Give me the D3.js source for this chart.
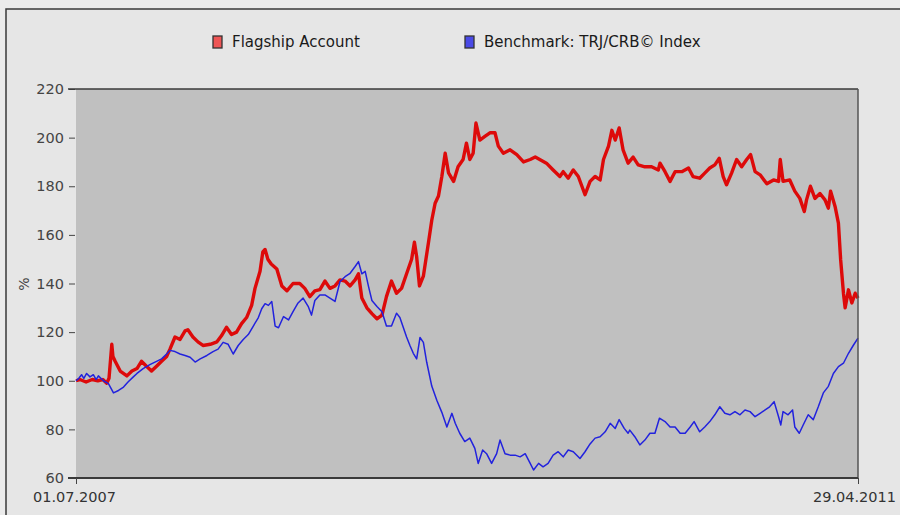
<!DOCTYPE html>
<html>
<head>
<meta charset="utf-8">
<script src="https://cdn.jsdelivr.net/npm/d3@7"></script>
<style>
  html, body { margin: 0; padding: 0; background: #ebebeb; }
  svg { display: block; }
</style>
</head>
<body>
<div id="chart"></div>
<script>
// series names + colours
const seriesNames = ["Flagship Account", "Benchmark: TRJ/CRB\u00a9 Index"];

// days since 01.07.2007 and index values
const flagshipDays = [0,7,18,29,39,48,55,59,64,66,70,79,91,100,109,117,126,135,144,153,162,168,177,186,195,200,209,218,227,240,252,260,269,278,287,296,305,314,320,329,334,338,343,349,359,368,377,388,400,409,418,427,436,445,454,463,472,481,490,499,505,511,520,529,538,547,555,564,573,582,591,600,605,609,614,621,630,636,642,648,654,660,666,675,683,692,698,704,710,715,722,731,740,749,755,764,776,788,800,812,821,829,841,853,865,871,880,889,898,910,919,928,937,943,952,958,964,971,978,987,996,1005,1017,1029,1041,1044,1053,1062,1071,1083,1095,1103,1115,1124,1133,1142,1150,1157,1163,1172,1181,1190,1199,1206,1214,1223,1235,1247,1256,1259,1264,1276,1285,1294,1302,1306,1313,1321,1330,1339,1345,1349,1357,1363,1367,1372,1375,1381,1387,1393,1398];
const flagshipValues = [100,100.5,99.5,100.5,100,100.5,99,101,115,110,108,104,102,104,105,108,106,104,106,108,110,113,118,117,120.5,121,118,116,114.5,115,116,118.5,122,119,120,123.5,126,131,138,145,153,154,150,148,146,139,137,140,140,138,134.6,137,137.5,141,138,139,141.5,141,139,141.5,144,134,130,127.6,125.5,127,134.6,141,136,138,144,150,157,151,139,143,156.7,166,173,176,184,193.6,185.5,182,188,191,197.7,191,193.6,206,199,200.5,202,202,196.5,193.6,195,193,190,191,192,191,189.5,186.7,184,186,183.3,186.7,184,176.5,182,184,182.6,191,196.5,203,199,204,195,189.5,192,188.8,188,188,186.7,189.5,186,182,186,186,187.5,184,183.3,185.4,187.5,188.8,191.5,184,180.6,185.4,191,188,191,193,186,184.7,181,182.6,182,191,182,182.6,178,175,169.6,174.4,180,175,177,174.4,171,178,171.7,164.8,149.7,136,130,137.4,132,136,134];

const benchmarkDays = [0,5,10,14,19,25,31,36,40,49,58,67,76,85,93,102,109,120,132,144,153,162,168,177,186,195,204,213,222,234,245,254,263,272,281,290,299,308,317,326,332,338,344,350,356,362,371,380,388,397,406,415,421,427,436,445,454,463,472,481,490,499,505,511,517,523,529,538,547,555,564,573,579,591,597,603,609,615,621,627,636,645,654,663,672,678,686,695,704,713,719,727,734,743,752,758,767,776,785,794,803,812,818,827,835,844,853,862,871,880,889,901,910,919,928,937,946,955,964,971,980,987,990,999,1008,1017,1026,1035,1043,1053,1062,1071,1080,1089,1098,1105,1115,1124,1133,1142,1151,1160,1169,1178,1187,1196,1205,1214,1223,1232,1240,1248,1256,1260,1264,1273,1281,1285,1293,1300,1309,1318,1327,1336,1345,1354,1363,1372,1381,1390,1398];
const benchmarkValues = [100,101,102.5,101,103,101.6,102.5,100.5,102,100,98.8,95,96,97.4,99.5,101.5,103,105,106.6,108,109,111,112.5,112,111,110.4,109.7,107.7,109,110.4,112,113,115.8,115,111,114.5,117,119,122.5,126,129.6,131.7,131,132.6,122.5,121.8,126.4,125,128.4,132,134,130.6,127,133,135.3,135.3,134,132.6,140.8,142.8,144.2,147,149,144,145,138.7,133,130.5,128.4,122.5,122.5,127.8,126,118,114.5,111.3,109,117.8,115.8,107.6,97.8,92,87,81,86.6,82.5,78.4,75,76.4,72.2,66,71.5,70,66,70,75.6,70,69.4,69.4,68.7,70,66,63.3,66,64.6,66,69.4,70.8,68.7,71.5,70.8,68,70.8,74,76.4,77,79,82.5,80.4,84,80.4,78.4,79.7,77,73.6,75.6,78.4,78.4,84.6,83.2,81,81,78.4,78.4,81,83.2,79,81,83.2,86,89.3,86.6,86,87.3,86,88,87.3,85.2,86.6,88,89.3,91.4,85.2,81.8,87.3,86,88,81,78.4,81.8,86,84,89.3,95,97.7,103,105.8,107.2,111.3,114.7,117.5];

const yTicks = [60, 80, 100, 120, 140, 160, 180, 200, 220];
const dateLabels = ["01.07.2007", "29.04.2011"];

const width = 900, height = 515;
const marginLeft = 76, plotRight = 858, marginTop = 89, plotBottom = 478;

const parseDate = d3.timeParse("%d.%m.%Y");
const start = parseDate(dateLabels[0]);
const end = parseDate(dateLabels[1]);

const x = d3.scaleTime().domain([start, end]).range([marginLeft, plotRight]);
const y = d3.scaleLinear().domain([60, 220]).range([plotBottom, marginTop]);

const flagship = flagshipDays.map((d, i) => ({ date: d3.timeDay.offset(start, d), value: flagshipValues[i] }));
const benchmark = benchmarkDays.map((d, i) => ({ date: d3.timeDay.offset(start, d), value: benchmarkValues[i] }));

const svg = d3.select("#chart")
  .append("svg")
  .attr("width", width)
  .attr("height", height)
  .attr("style", "font-family: 'DejaVu Sans', Verdana, sans-serif;");

// outer panel
svg.append("rect")
  .attr("x", 6).attr("y", 9)
  .attr("width", width + 10).attr("height", height + 10)
  .attr("fill", "#e6e6e6")
  .attr("stroke", "#3a3a3a")
  .attr("stroke-width", 1.5);

// legend
const legendX = [213, 465];
const legendColors = ["#ee5555", "#4a4ae6"];
const legend = svg.append("g");
seriesNames.forEach((name, i) => {
  legend.append("rect")
    .attr("x", legendX[i]).attr("y", 36)
    .attr("width", 9).attr("height", 12)
    .attr("fill", legendColors[i])
    .attr("stroke", "#333")
    .attr("stroke-width", 1.3);
  legend.append("text")
    .attr("x", legendX[i] + 19).attr("y", 47)
    .attr("font-size", 15)
    .attr("fill", "#1a1a1a")
    .text(name);
});

// plot background
svg.append("rect")
  .attr("x", marginLeft).attr("y", marginTop)
  .attr("width", plotRight - marginLeft).attr("height", plotBottom - marginTop)
  .attr("fill", "#c0c0c0");

// y axis
const yAxis = svg.append("g")
  .attr("transform", `translate(${marginLeft - 1},0)`)
  .call(d3.axisLeft(y).tickValues(yTicks).tickSize(6).tickPadding(5))
  .call(g => g.select(".domain").remove());
yAxis.selectAll(".tick line").attr("stroke", "#444");
yAxis.selectAll(".tick text")
  .attr("font-size", 14.5)
  .attr("font-family", "'DejaVu Sans', Verdana, sans-serif")
  .attr("fill", "#444");

svg.append("text")
  .attr("transform", "translate(29,284) rotate(-90)")
  .attr("text-anchor", "middle")
  .attr("font-size", 14)
  .attr("fill", "#444")
  .text("%");

// lines
const line = d3.line()
  .x(d => x(d.date))
  .y(d => y(d.value));

svg.append("path")
  .datum(flagship)
  .attr("fill", "none")
  .attr("stroke", "#dd0a0a")
  .attr("stroke-width", 3.4)
  .attr("stroke-linejoin", "round")
  .attr("d", line);

svg.append("path")
  .datum(benchmark)
  .attr("fill", "none")
  .attr("stroke", "#2222dd")
  .attr("stroke-width", 1.5)
  .attr("stroke-linejoin", "round")
  .attr("d", line);

// frame: top and right edges
svg.append("line")
  .attr("x1", marginLeft - 8).attr("x2", plotRight)
  .attr("y1", marginTop).attr("y2", marginTop)
  .attr("stroke", "#3a3a3a").attr("stroke-width", 1.5);
svg.append("line")
  .attr("x1", plotRight).attr("x2", plotRight)
  .attr("y1", marginTop).attr("y2", plotBottom)
  .attr("stroke", "#555").attr("stroke-width", 1.5);

// x axis
const xAxis = svg.append("g")
  .attr("transform", `translate(0,${plotBottom})`)
  .call(d3.axisBottom(x).tickValues([start, end]).tickSize(6).tickPadding(8)
    .tickFormat(d3.timeFormat("%d.%m.%Y")))
  .call(g => g.select(".domain")
    .attr("d", `M${marginLeft - 8},0H${plotRight}`)
    .attr("stroke", "#3a3a3a")
    .attr("stroke-width", 2));
xAxis.selectAll(".tick line").attr("stroke", "#444");
xAxis.selectAll(".tick text")
  .attr("font-size", 14.5)
  .attr("font-family", "'DejaVu Sans', Verdana, sans-serif")
  .attr("fill", "#333")
  .attr("dx", (d, i) => i === 1 ? -4 : -2);
</script>
</body>
</html>
